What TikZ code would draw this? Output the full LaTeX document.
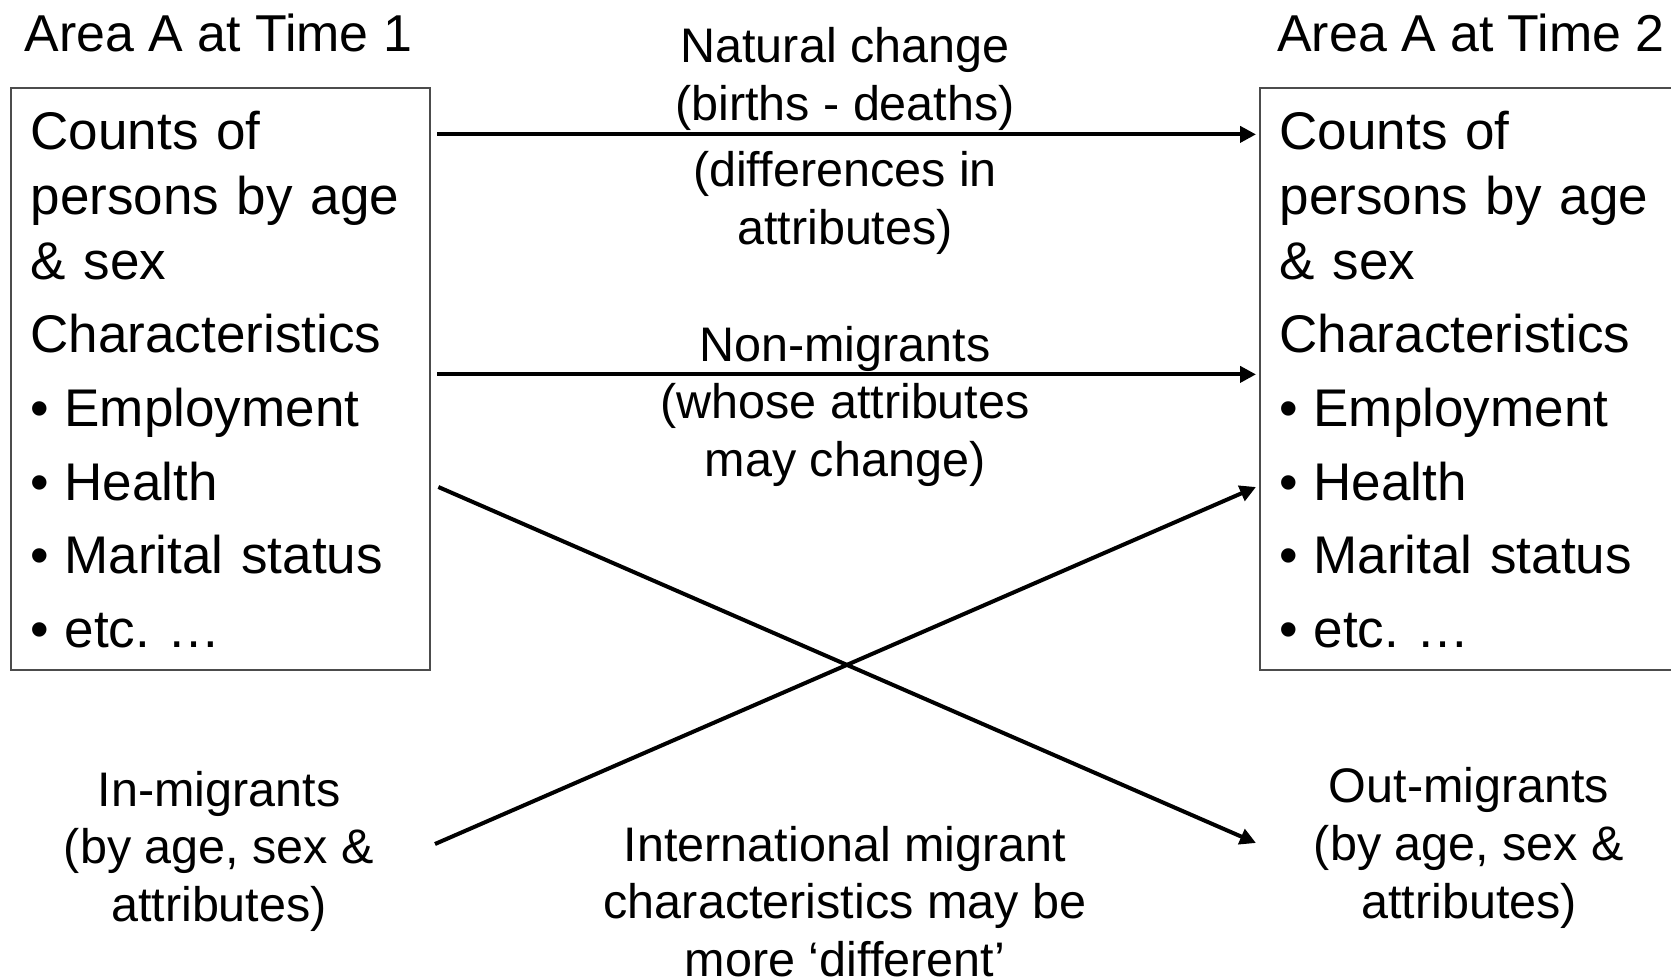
\documentclass[tikz,border=0pt]{standalone}
\usepackage{fontspec}
\setmainfont{Liberation Sans}
\usetikzlibrary{arrows.meta,calc,positioning}

\newcommand{\bul}{\makebox[0.34cm][l]{•}}
\newcommand{\areatext}{Counts of\\persons by age\\\& sex\\[0.086cm]Characteristics\\[0.086cm]\bul Employment\\[0.086cm]\bul Health\\[0.086cm]\bul Marital status\\[0.086cm]\bul etc.\ …}

\begin{document}
\begin{tikzpicture}[x=0.01cm, y=0.01cm,
    area/.style={draw=black!70, line width=0.55pt, anchor=north west,
      minimum width=4.19cm, minimum height=5.816cm, text width=3.79cm,
      inner xsep=0.2cm, inner ysep=0.22cm, align=left,
      font=\fontsize{15.08pt}{18.49pt}\selectfont},
    areatitle/.style={anchor=base west, inner sep=0pt,
      font=\fontsize{14.75pt}{18pt}\selectfont},
    flowtext/.style={anchor=base, inner sep=0pt, align=center,
      font=\fontsize{13.8pt}{16.36pt}\selectfont},
    flow/.style={-{Triangle[length=0.16cm, width=0.16cm]}, line width=1.14pt}]

    \useasboundingbox (0,0) rectangle (1671,-980);
    \clip (0,0) rectangle (1671,-980);

    % Area boxes
    \node[area] (t1box) at (9.6,-87.4)    {\areatext};
    \node[area] (t2box) at (1258.6,-87.4) {\areatext};

    % Titles
    \node[areatitle] (t1) at (24,-52)     {Area A at Time 1};
    \node[areatitle] (t2) at (1276.6,-52) {Area A at Time 2};

    % Flow labels (placed at the baseline of their last line)
    \node[flowtext] (nat)    at (845,-120.5)  {Natural change\\(births - deaths)};
    \node[flowtext] (diff)   at (845,-244.5)  {(differences in\\attributes)};
    \node[flowtext] (nonmig) at (845,-476.5)  {Non-migrants\\(whose attributes\\may change)};
    \node[flowtext] (inmig)  at (219,-921.5)  {In-migrants\\(by age, sex \&\\attributes)};
    \node[flowtext] (outmig) at (1469,-918)   {Out-migrants\\(by age, sex \&\\attributes)};
    \node[flowtext] (intl)   at (845,-976.5)  {International migrant\\characteristics may be\\more ‘different’};

    % Free ends of the migration arrows
    \coordinate (instart) at (435,-844);
    \coordinate (outend)  at (1256,-843);

    % Connect the nodes
    \draw[flow] ($(t1box.north east)+(6.6,-47)$)  -- ($(t2box.north west)+(-2.6,-47)$);
    \draw[flow] ($(t1box.north east)+(6.6,-287)$) -- ($(t2box.north west)+(-2.6,-287)$);
    \draw[flow] ($(t1box.north east)+(7.6,-399.6)$) -- (outend);
    \draw[flow] (instart) -- ($(t2box.north west)+(-2.6,-399.6)$);

\end{tikzpicture}
\end{document}
